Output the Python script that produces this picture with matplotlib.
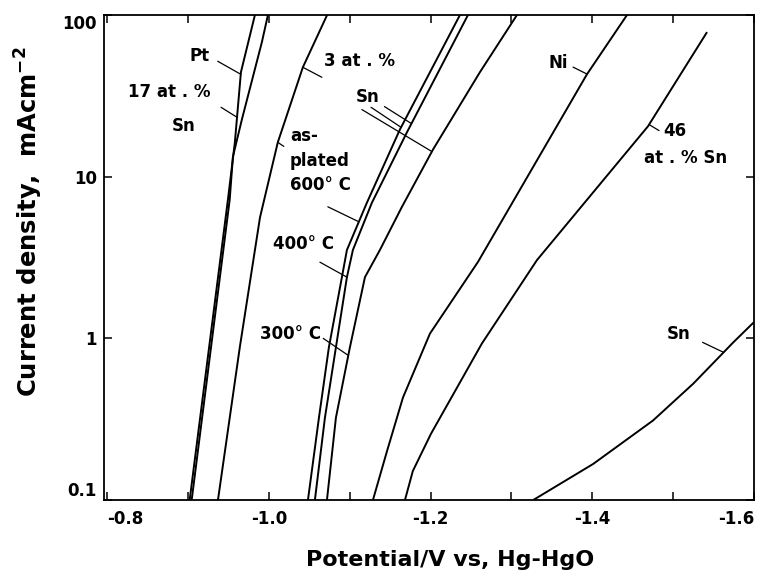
import numpy as np
import matplotlib.pyplot as plt
from matplotlib.ticker import NullLocator

plt.rcParams['font.family'] = ['DejaVu Sans']
plt.rcParams['font.weight'] = 'bold'
plt.rcParams['mathtext.default'] = 'bf'

# potential (V vs Hg-HgO) and current density (mA cm-2)
pt_x = [-0.902, -0.9493, -0.9579, -0.9654, -0.9827]
pt_y = [0.1, 7.2, 16.3, 44.3, 100]

sn17_x = [-0.9045, -0.9515, -0.9555, -0.9666, -0.9913, -0.9988]
sn17_y = [0.1, 7.2, 13.3, 22.6, 67.9, 100]

asplated_x = [-0.937, -0.964, -0.989, -1.011, -1.042, -1.072]
asplated_y = [0.1, 0.88, 5.6, 16.3, 47.5, 100]

t600_x = [-1.0483, -1.0619, -1.0742, -1.0903, -1.0965, -1.1212, -1.1621, -1.2363]
t600_y = [0.1, 0.323, 0.88, 2.39, 3.52, 6.9, 19.6, 100]

t400_x = [-1.0569, -1.0693, -1.0829, -1.0965, -1.1039, -1.1274, -1.1707, -1.2462]
t400_y = [0.1, 0.323, 0.88, 2.39, 3.52, 6.9, 18.8, 100]

t300_x = [-1.0718, -1.0829, -1.1002, -1.1188, -1.1373, -1.1645, -1.2029, -1.261, -1.3068]
t300_y = [0.1, 0.323, 0.88, 2.39, 3.52, 6.5, 14.7, 44.3, 100]

ni_x = [-1.1287, -1.146, -1.1658, -1.1992, -1.2586, -1.3934, -1.4429]
ni_y = [0.1, 0.2, 0.43, 1.07, 2.97, 43.0, 100]

sn46_x = [-1.1683, -1.178, -1.2005, -1.2635, -1.3316, -1.4689, -1.5419]
sn46_y = [0.1, 0.151, 0.257, 0.93, 3.05, 20.5, 78.4]

sn_x = [-1.327, -1.401, -1.475, -1.525, -1.574, -1.600]
sn_y = [0.1, 0.167, 0.31, 0.525, 0.94, 1.26]

xtick_vals = [-0.8, -0.9, -1.0, -1.1, -1.2, -1.3, -1.4, -1.5, -1.6]
xtick_text = ['-0.8', '', '-1.0', '', '-1.2', '', '-1.4', '', '-1.6']
ytick_vals = [0.1, 1, 10, 100]
ytick_text = ['0.1', '1', '10', '100']

PX = 0.72  # points per pixel at 100 dpi

fig = plt.figure(figsize=(7.6, 5.73), dpi=100)
ax = fig.add_axes([0.1368, 0.1274, 0.8553, 0.8464])

for xs, ys in [(pt_x, pt_y), (sn17_x, sn17_y), (asplated_x, asplated_y),
               (t600_x, t600_y), (t400_x, t400_y), (t300_x, t300_y),
               (ni_x, ni_y), (sn46_x, sn46_y), (sn_x, sn_y)]:
    ax.plot(xs, ys, color='black', lw=1.4, solid_capstyle='butt')

ax.set_yscale('log')
ax.set_xlim(-0.796, -1.6)
ax.set_ylim(0.1, 100)

ax.set_xticks(xtick_vals)
xlabs = ax.set_xticklabels(xtick_text)
xlabs[0].set_horizontalalignment('left')
xlabs[-1].set_horizontalalignment('right')
ax.set_yticks(ytick_vals)
ylabs = ax.set_yticklabels(ytick_text)
ylabs[0].set_verticalalignment('bottom')
ylabs[-1].set_verticalalignment('top')
ax.yaxis.set_minor_locator(NullLocator())
ax.tick_params(direction='in', length=6, width=1.1, top=True, right=True,
               labelsize=12, pad=7)
ax.tick_params(axis='y', pad=5)
for sp in ax.spines.values():
    sp.set_linewidth(1.3)

ax.set_xlabel('Potential/V vs, Hg-HgO', fontsize=16, fontweight='bold')
ax.xaxis.set_label_coords(0.532, -0.103)
ax.set_ylabel('Current density,  mAcm$^{-2}$', fontsize=17.5, fontweight='bold')
ax.yaxis.set_label_coords(-0.09, 0.573)


def x_at(xs, ys, yv):
    return np.interp(np.log10(yv), np.log10(ys), xs)


def leader(xs, ys, yv, start):
    x0 = x_at(xs, ys, yv)
    ax.annotate('', xy=(x0, yv), xytext=(start[0] * PX, -start[1] * PX),
                textcoords='offset points',
                arrowprops=dict(arrowstyle='-', lw=0.9, color='black',
                                shrinkA=0, shrinkB=0))


def label(xs, ys, yv, txt, off, ha='center', **kw):
    x0 = x_at(xs, ys, yv)
    ax.annotate(txt, xy=(x0, yv), xytext=(off[0] * PX, -off[1] * PX),
                textcoords='offset points', ha=ha, va='center',
                fontsize=12, fontweight='bold', **kw)


# Pt and 17 at.% Sn
leader(pt_x, pt_y, 43, (-23, -13))
label(pt_x, pt_y, 43, 'Pt', (-41, -18))
leader(pt_x, pt_y, 23.3, (-16, -10))
label(pt_x, pt_y, 23.3, '17 at . %', (-68, -25))
label(pt_x, pt_y, 23.3, 'Sn', (-53, 9))

# 3 at.% Sn series
leader(asplated_x, asplated_y, 47.5, (19, 10))
label(asplated_x, asplated_y, 47.5, '3 at . %', (57, -6))
leader(t300_x, t300_y, 14.3, (-70, -42))
label(t300_x, t300_y, 14.3, 'Sn', (-64, -55))
leader(t600_x, t600_y, 20.2, (-30, -20))
leader(t400_x, t400_y, 21.3, (-27, -17))

leader(asplated_x, asplated_y, 16.3, (6, 4))
leader(t600_x, t600_y, 5.26, (-31, -15))
label(t600_x, t600_y, 5.26, 'as-\nplated\n600\u00b0 C', (-69, -61),
      ha='left', linespacing=1.45)

leader(t400_x, t400_y, 2.39, (-27, -15))
label(t400_x, t400_y, 2.39, '400\u00b0 C', (-43, -33))

leader(t300_x, t300_y, 0.784, (-25, -17))
label(t300_x, t300_y, 0.784, '300\u00b0 C', (-58, -21))

# Ni
leader(ni_x, ni_y, 43.1, (-14, -7))
label(ni_x, ni_y, 43.1, 'Ni', (-29, -11))

# 46 at.% Sn
leader(sn46_x, sn46_y, 21.0, (10, 6))
label(sn46_x, sn46_y, 21.0, '46', (26, 6))
label(sn46_x, sn46_y, 21.0, 'at . % Sn', (36, 33))

# Sn
leader(sn_x, sn_y, 0.819, (-21, -10))
label(sn_x, sn_y, 0.819, 'Sn', (-45, -18))

fig.savefig('out.png', dpi=100)
